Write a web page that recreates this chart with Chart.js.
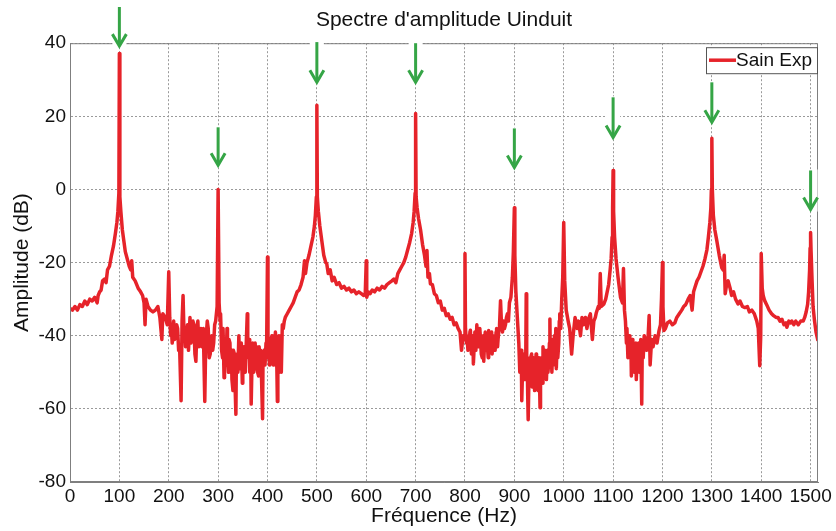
<!DOCTYPE html>
<html lang="fr">
<head>
<meta charset="UTF-8">
<title>Spectre d'amplitude Uinduit</title>
<script src="https://cdn.jsdelivr.net/npm/chart.js"></script>
<style>
  html, body { margin: 0; padding: 0; background: #fff; }
</style>
</head>
<body>
<canvas id="spectre" width="836" height="531"></canvas>
<script>
// spectre (Hz / dB), une ligne par centaine de Hz
const freqs = [
  0,5,10,15,20,25,30,35,40,45,50,55,57,60,63,66,70,73,76,80,84,88,92,95,97,99,
  100,101,103,106,109,112,116,120,123,125,127,132,138,143,147,150,152,154,158,163,168,173,178,182,186,188,193,197,
  200,202,204,205,207,210,212,214,216,218,220,222,225,227,229,231,232,234,236,238,240,243,245,247,249,251,253,255,257,259,261,263,265,267,270,273,275,276,278,280,282,284,287,289,291,293,295,298,
  300,302,304,305,307,309,310,312,313,315,316,318,319,321,322,324,325,327,328,330,331,333,334,336,337,339,340,342,344,346,347,349,350,352,354,355,357,359,360,362,363,364,366,367,369,370,372,374,375,377,378,380,382,383,385,386,388,390,391,393,395,397,398,
  400,401,402,404,405,407,409,410,412,413,415,416,418,419,420,421,423,424,426,427,428,430,432,434,436,440,444,448,452,456,460,464,468,472,475,477,480,484,488,492,495,497,499,
  500,501,503,506,510,514,518,520,523,527,531,535,540,545,550,555,560,565,570,575,580,585,590,595,598,
  600,601,604,608,612,617,622,627,632,637,642,647,652,656,660,664,668,672,676,680,684,688,692,695,697,699,
  700,701,703,706,710,714,718,721,723,725,728,730,734,738,742,746,750,754,758,762,766,770,774,778,782,786,790,793,796,799,
  800,801,803,804,806,808,810,811,813,814,816,817,819,820,822,824,826,828,830,831,833,835,837,838,840,841,843,845,847,848,850,852,854,855,857,858,860,861,863,864,866,867,869,870,872,874,876,878,880,882,884,886,888,890,893,896,898,
  900,901,903,906,909,911,912,914,915,917,918,920,921,923,924,925,926,927,928,930,931,933,935,936,938,939,941,942,944,945,947,948,950,952,953,955,956,958,959,961,962,964,965,967,968,970,971,972,973,975,976,978,979,981,982,984,985,987,988,990,991,992,994,996,998,
  1000,1002,1005,1009,1012,1016,1019,1023,1027,1030,1034,1037,1040,1044,1047,1050,1054,1058,1061,1064,1066,1070,1072,1074,1076,1081,1085,1088,1091,1094,1096,1098,1099,
  1100,1101,1103,1106,1110,1115,1119,1121,1123,1125,1127,1128,1130,1131,1133,1134,1136,1137,1139,1140,1142,1143,1145,1146,1147,1149,1150,1152,1153,1155,1156,1158,1159,1161,1163,1165,1168,1171,1173,1175,1178,1181,1185,1189,1193,1196,1198,
  1200,1201,1203,1206,1210,1215,1220,1225,1229,1234,1239,1243,1247,1252,1256,1260,1263,1266,1270,1274,1278,1282,1286,1290,1293,1296,1298,1299,
  1300,1301,1303,1306,1310,1315,1320,1323,1325,1327,1330,1333,1337,1340,1344,1348,1353,1357,1362,1367,1372,1376,1381,1386,1391,1394,1397,1399,
  1400,1402,1404,1407,1411,1416,1421,1425,1430,1434,1438,1442,1446,1450,1452,1456,1460,1462,1466,1470,1475,1480,1485,1488,1491,1494,1496,1498,1499,1500,1501,1503,1505,1508,1511,1515
];
const amps = [
  -32.5,-33,-32,-33,-31.5,-32,-30.5,-31.5,-30,-30.5,-29.5,-31,-29,-28,-27.5,-25,-24.5,-25.5,-22,-21,-18,-15.5,-12,-9,-6,-1,
  37.2,-2,-6,-11,-14,-17,-19,-21,-22,-19.5,-24,-25,-27,-28,-29,-31,-37,-30,-32,-33,-33.5,-33,-32,-35,-41,-34,-35,-37,
  -22.5,-35,-40,-37,-42,-36,-41,-40,-37,-38,-44,-43,-57.8,-36,-29,-40,-38,-43,-40,-37,-44,-35,-42,-41,-36,-37,-45,-47,-38,-36,-43,-40,-38,-43,-38,-58,-41,-40,-36,-38,-46,-45,-40,-44,-42,-37,-36,-32,
  0,-31,-36,-34,-44,-46,-38,-51.5,-42,-41,-48,-38,-46,-50,-41,-42,-49,-44,-52,-55,-44,-45,-52,-61.5,-46,-45,-50,-40,-49,-47,-42,-53,-51,-43,-44,-50,-42,-34,-45,-46,-41,-50,-44,-58.7,-45,-42,-50,-48,-42,-49,-43,-50,-51,-43,-47,-44,-52,-62.7,-45,-44,-48,-42,-46,
  -18.5,-44,-42,-48,-45,-41,-40,-47,-48,-40,-46,-39,-44,-49,-58,-42,-40,-50,-48,-40,-50,-37,-38,-36,-35,-34,-33,-32,-31,-29.5,-28,-27.5,-26,-24,-19.5,-23,-20,-18,-15.5,-13,-10,-7,-2,
  23,-2,-6,-10,-14,-18,-20,-20.3,-23,-22,-25,-24,-26,-25.5,-27,-26.5,-27.5,-27,-28,-27.5,-28.5,-28,-28.5,-29,-28.5,
  -19.5,-29.5,-28,-28.5,-27.5,-28,-27,-27.5,-26.5,-27,-26,-25.5,-25,-24.5,-25.5,-23,-22,-21,-20,-18.5,-16.5,-14.5,-12,-9,-6,-1,
  20.8,-2,-5,-8,-11,-15,-18,-21,-16.7,-24,-23,-25.8,-26,-28.5,-29,-31,-30.5,-33,-32.5,-34.5,-34,-35.5,-35,-37,-36.5,-38,-39,-44,-40,-41,
  -17.5,-38,-42,-40,-44,-43,-39,-38.5,-45,-44,-40,-47.7,-42,-39,-44,-37,-42,-43,-38,-40,-45,-46,-40,-47,-41,-39,-44,-42,-46,-38.6,-43,-41,-39,-45,-40,-40,-44,-44,-39,-38,-43,-41,-38,-37,-30.4,-37,-39,-36,-38,-37,-35,-34,-36,-31,-29.5,-24,-17,
  -5,-18,-27.7,-35,-42,-50,-48.7,-44,-57.8,-47,-50,-45,-52,-48,-28.5,-50,-46,-56,-63,-48,-52,-46,-45,-54,-53,-46,-55,-52,-45,-47,-54,-55,-46,-59.7,-47,-46,-53,-43,-50,-50,-44,-48,-52,-44,-50,-47,-42,-35.4,-48,-45,-50,-41,-48,-40,-47,-38,-49,-40,-46,-42,-36,-34,-38,-30,-24,
  -9,-25,-33,-36,-38,-45,-40,-35,-38,-36,-40,-35,-37,-35,-38,-35.5,-34,-41,-36,-35,-33.7,-32,-32.5,-23,-32,-31.4,-30,-28,-26,-22,-19,-13,-5,
  5.2,-6,-13,-19,-24,-29.5,-31,-21.6,-33,-36,-42,-38,-46,-43,-40,-46,-42,-51,-41,-44,-43,-50,-49,-42,-52,-44,-43,-42,-50,-50,-41,-58.7,-44,-46,-40,-41,-44,-40,-34.5,-48,-41,-43,-40,-42,-38.6,-37,-30,
  -20,-32,-38.6,-38,-36.5,-36,-37,-36.5,-35,-34,-33,-32,-31.5,-30,-29,-33,-28,-26.7,-25,-24,-22.5,-21,-19,-16.5,-13,-9,-5,0,
  14,0,-7,-11,-14,-18,-21.4,-22,-18,-28.5,-26,-25,-27,-29,-28,-30,-31.3,-30.5,-32,-32.3,-32,-33.5,-33,-34,-36,-38,-48.2,-40,
  -17.5,-27,-29,-30.4,-31.5,-33,-34,-34.5,-35,-35,-36,-35.5,-37,-36.5,-37.7,-36,-36.5,-36,-37,-36,-37,-36,-36,-35,-33.5,-31.4,-28,-22,-16,-11.8,-17,-25,-32,-36,-39,-41.4
];

const xTicks = [0, 100, 200, 300, 400, 500, 600, 700, 800, 900, 1000, 1100, 1200, 1300, 1400, 1500];
const yTicks = [-80, -60, -40, -20, 0, 20, 40];

// flèches vertes : fréquence, haut et pointe (dB)
const arrowFreqs = [100, 300, 500, 700, 900, 1100, 1300, 1500];
const arrowFrom = [49.9, 17, 40.3, 40, 16.7, 25.2, 29.3, 5.2];
const arrowTo = [39.2, 6.6, 29.3, 29.3, 6, 14.2, 18.4, -5.5];

const RED = '#e6232a';
const FONT = "'Liberation Sans', Arial, sans-serif";

const decorPlugin = {
  id: 'decor',
  afterDatasetsDraw(chart) {
    const { ctx, chartArea: a, scales: { x, y } } = chart;
    ctx.save();
    // cadre complet
    ctx.strokeStyle = '#7f7f7f';
    ctx.lineWidth = 1;
    ctx.strokeRect(a.left + 0.5, a.top + 0.5, a.right - a.left - 1, a.bottom - a.top - 1);

    // flèches
    arrowFreqs.forEach((f, i) => {
      const px = x.getPixelForValue(f);
      const y0 = y.getPixelForValue(arrowFrom[i]);
      const y1 = y.getPixelForValue(arrowTo[i]);
      ctx.fillStyle = '#fff';
      ctx.fillRect(px - 7, y0 - 1, 14, y1 - y0 + 3);
      ctx.strokeStyle = '#35a546';
      ctx.lineWidth = 3;
      ctx.lineCap = 'butt';
      ctx.beginPath();
      ctx.moveTo(px, y0);
      ctx.lineTo(px, y1 - 1);
      ctx.stroke();
      ctx.beginPath();
      ctx.moveTo(px - 7, y1 - 12);
      ctx.lineTo(px, y1);
      ctx.lineTo(px + 7, y1 - 12);
      ctx.stroke();
    });

    // légende
    const lw = 111, lh = 26;
    const lx = a.right - 1 - lw, ly = a.top + 4;
    ctx.fillStyle = '#fff';
    ctx.fillRect(lx, ly, lw, lh);
    ctx.strokeStyle = '#555';
    ctx.lineWidth = 1;
    ctx.strokeRect(lx + 0.5, ly + 0.5, lw, lh);
    ctx.strokeStyle = RED;
    ctx.lineWidth = 3.5;
    ctx.beginPath();
    ctx.moveTo(lx + 3, ly + lh / 2);
    ctx.lineTo(lx + 30, ly + lh / 2);
    ctx.stroke();
    ctx.fillStyle = '#111';
    ctx.font = '19px ' + FONT;
    ctx.textBaseline = 'middle';
    ctx.fillText(chart.data.datasets[0].label, lx + 30, ly + lh / 2 + 1);
    ctx.restore();
  }
};

new Chart(document.getElementById('spectre'), {
  type: 'line',
  data: {
    datasets: [{
      label: 'Sain Exp',
      data: freqs.map((f, i) => ({ x: f, y: amps[i] })),
      borderColor: RED,
      backgroundColor: RED,
      borderWidth: 3.5,
      pointRadius: 0,
      tension: 0,
      borderJoinStyle: 'round'
    }]
  },
  options: {
    responsive: false,
    animation: false,
    devicePixelRatio: 1,
    layout: { padding: { top: 0, right: 18, bottom: 0, left: 0 } },
    plugins: {
      legend: { display: false },
      tooltip: { enabled: false },
      title: {
        display: true,
        text: "Spectre d'amplitude Uinduit",
        fullSize: false,
        color: '#111',
        font: { family: FONT, size: 21, weight: 'normal', lineHeight: 1.2 },
        padding: { top: 8, bottom: 10 }
      }
    },
    scales: {
      x: {
        type: 'linear',
        min: 0,
        max: 1515,
        afterBuildTicks: s => { s.ticks = xTicks.map(v => ({ value: v })); },
        afterFit: s => { s.height = 49; },
        ticks: { color: '#111', padding: 3, maxRotation: 0, autoSkip: false, font: { family: FONT, size: 19 }, callback: v => String(v) },
        grid: { color: '#9a9a9a', drawTicks: false },
        border: { color: '#7f7f7f', dash: [2, 2] },
        title: { display: true, text: 'Fréquence (Hz)', color: '#111', padding: { top: 0, bottom: 2 }, font: { family: FONT, size: 21 } }
      },
      y: {
        min: -80,
        max: 40,
        afterBuildTicks: s => { s.ticks = yTicks.map(v => ({ value: v })); },
        afterFit: s => { s.width = 70; },
        ticks: { color: '#111', padding: 4, font: { family: FONT, size: 19 } },
        grid: { color: '#9a9a9a', drawTicks: false },
        border: { color: '#7f7f7f', dash: [2, 2] },
        title: { display: true, text: 'Amplitude (dB)', color: '#111', padding: { top: 10, bottom: 0 }, font: { family: FONT, size: 21 } }
      }
    }
  },
  plugins: [decorPlugin]
});
</script>
</body>
</html>
